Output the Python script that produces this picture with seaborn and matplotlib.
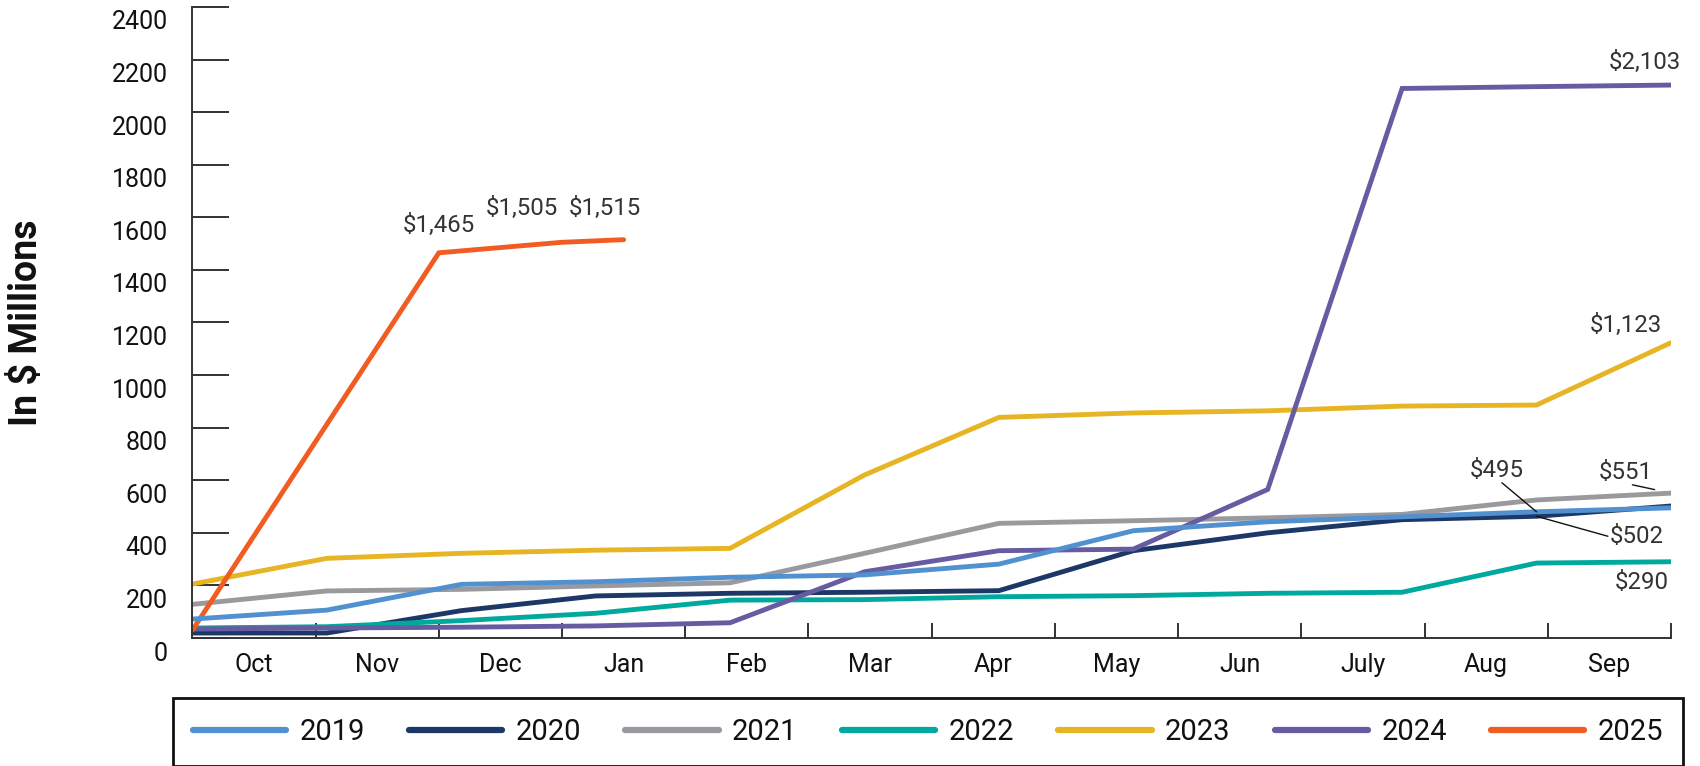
import numpy as np
import pandas as pd
import matplotlib
matplotlib.use("Agg")
import matplotlib.pyplot as plt
from matplotlib.lines import Line2D
from matplotlib.transforms import ScaledTranslation
import seaborn as sns

# Fiscal-year months (October start)
months = ["Oct", "Nov", "Dec", "Jan", "Feb", "Mar", "Apr", "May", "Jun", "July", "Aug", "Sep"]
years = ["2019", "2020", "2021", "2022", "2023", "2024", "2025"]

# Cumulative totals, $ millions, one value per monthly report
fy2019 = [72, 106, 204, 214, 231, 240, 281, 408, 442, 461, 480, 495]
fy2020 = [19, 19, 104, 160, 170, 174, 180, 332, 400, 450, 463, 502]
fy2021 = [128, 179, 185, 198, 210, 322, 436, 446, 457, 470, 525, 551]
fy2022 = [38, 43, 66, 94, 144, 146, 157, 161, 170, 174, 285, 290]
fy2023 = [205, 303, 322, 334, 341, 620, 839, 856, 864, 882, 886, 1123]
fy2024 = [34, 38, 41, 46, 58, 252, 332, 338, 565, 2090, 2097, 2103]
# Current year: partial, reported at fiscal-month marks
fy2025 = [30, 1465, 1505, 1515]
fy2025_pos = [0, 2, 3, 3.5]

# Twelve monthly reports spread across the fiscal year (0 = start, 12 = end)
report_pos = np.arange(12) * 12 / 11

colors = {
    "2019": "#5191d0",
    "2020": "#1d3766",
    "2021": "#9a9a9e",
    "2022": "#00a99d",
    "2023": "#e7b423",
    "2024": "#675ca2",
    "2025": "#f15c22",
}

series = {
    "2019": (report_pos, fy2019),
    "2020": (report_pos, fy2020),
    "2021": (report_pos, fy2021),
    "2022": (report_pos, fy2022),
    "2023": (report_pos, fy2023),
    "2024": (report_pos, fy2024),
    "2025": (fy2025_pos, fy2025),
}

rows = []
for yr, (pos, vals) in series.items():
    for p, v in zip(pos, vals):
        rows.append({"year": yr, "pos": p, "value": v})
df = pd.DataFrame(rows)

sns.set_theme(style="white")
plt.rcParams["font.family"] = ["Roboto", "DejaVu Sans"]

fig = plt.figure(figsize=(17, 7.66), dpi=100)
ax = fig.add_axes([0.1132, 0.1671, 0.8697, 0.8238])

sns.lineplot(data=df, x="pos", y="value", hue="year", hue_order=years,
             palette=colors, linewidth=3.5, sort=False, legend=False, ax=ax)
for ln in ax.get_lines():
    ln.set_solid_joinstyle("miter")
    ln.set_solid_capstyle("round")
# 2019 line sits above the 2020 line where they overlap
ax.get_lines()[0].set_zorder(2.5)

# Axes
ax.set_xlim(0, 12)
ax.set_ylim(0, 2400)
ax.set_xlabel("")
ax.set_yticks(range(0, 2401, 200))
ax.set_xticks(range(13))
ax.set_xticklabels([])
ax.set_xticks(np.arange(12) + 0.5, minor=True)
ax.set_xticklabels(months, minor=True)

for side in ("top", "right"):
    ax.spines[side].set_visible(False)
for side in ("left", "bottom"):
    ax.spines[side].set_color("#333333")
    ax.spines[side].set_linewidth(1.4)

ax.tick_params(axis="x", which="major", direction="in", length=10.8, width=1.3,
               color="#222222", bottom=True)
ax.tick_params(axis="x", which="minor", length=0, pad=11, labelsize=18,
               labelcolor="#111111", bottom=True)
ax.tick_params(axis="y", which="major", direction="in", length=26.6, width=1.3,
               color="#222222", pad=17.6, labelsize=18, labelcolor="#111111", left=True)

ax.set_ylabel("In $ Millions", fontsize=27, fontweight="bold", color="#111111", va="center")
ax.yaxis.set_label_coords(-0.112, 0.5)

# Value callouts
ann_kw = dict(textcoords="offset points", ha="center", va="center",
              fontsize=17.3, color="#333333")


def money(v):
    return f"${v:,.0f}"


ax.annotate(money(fy2025[1]), (fy2025_pos[1], fy2025[1]), xytext=(0, 19.4), **ann_kw)
ax.annotate(money(fy2025[2]), (fy2025_pos[2], fy2025[2]), xytext=(-28.8, 24.5), **ann_kw)
ax.annotate(money(fy2025[3]), (fy2025_pos[3], fy2025[3]), xytext=(-13.7, 22.3), **ann_kw)
ax.annotate(money(fy2024[-1]), (report_pos[-1], fy2024[-1]), xytext=(-18.7, 16.6), **ann_kw)
ax.annotate(money(fy2023[-1]), (report_pos[-1], fy2023[-1]), xytext=(-32.4, 12.6), **ann_kw)
ax.annotate(money(fy2022[-1]), (report_pos[-1], fy2022[-1]), xytext=(-20.9, -15.1), **ann_kw)

leader = dict(arrowstyle="-", color="#111111", lw=1.0, shrinkA=0, patchA=None)
ax.annotate(money(fy2021[-1]), (report_pos[-1], fy2021[-1]), xytext=(-32.4, 15.1),
            arrowprops=dict(leader, relpos=(0.62, -0.05), shrinkB=12), **ann_kw)
ax.annotate(money(fy2019[-1]), (report_pos[10], fy2019[10]), xytext=(-28.8, 30.0),
            arrowprops=dict(leader, relpos=(0.6, -0.05), shrinkB=0), **ann_kw)
ax.annotate(money(fy2020[-1]), (report_pos[10], fy2020[10]), xytext=(72, -14.4),
            arrowprops=dict(leader, relpos=(-0.03, 0.5), shrinkB=0), **ann_kw)

# Legend
handles = [Line2D([], [], color=colors[y], linewidth=4.5, solid_capstyle="round") for y in years]
leg = ax.legend(handles, years, loc="upper left",
                bbox_to_anchor=(-0.0132, -0.1451, 1.0213, 0.05), mode="expand",
                ncol=7, frameon=True, fancybox=False, fontsize=21,
                handlelength=3.2, handletextpad=0.45, borderpad=0.68,
                borderaxespad=0.0, labelcolor="#111111")
leg.get_frame().set_edgecolor("#111111")
leg.get_frame().set_linewidth(2.0)
leg.get_frame().set_alpha(1.0)

# Y tick labels sit slightly below their tick marks
shift = ScaledTranslation(0, -13 / 100, fig.dpi_scale_trans)
for lbl in ax.get_yticklabels():
    lbl.set_transform(lbl.get_transform() + shift)

fig.savefig("out.png", dpi=100, facecolor="white")
